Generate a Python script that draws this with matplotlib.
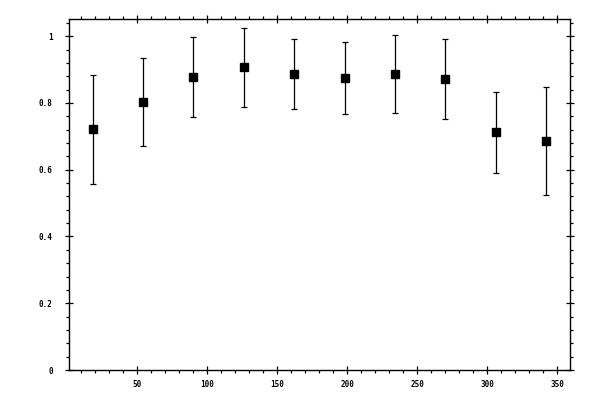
import matplotlib
matplotlib.use('Agg')
import matplotlib.pyplot as plt
from matplotlib.ticker import MultipleLocator

# data
uhly = [18, 54, 90, 126, 162, 198, 234, 270, 306, 342]
hodnoty = [0.721, 0.803, 0.877, 0.907, 0.887, 0.874, 0.887, 0.871, 0.712, 0.685]
chyby = [0.163, 0.131, 0.120, 0.118, 0.106, 0.108, 0.117, 0.120, 0.121, 0.162]

fig = plt.figure(figsize=(6, 4), dpi=100)
ax = fig.add_axes([0.1155, 0.075, 0.835, 0.877])

ax.errorbar(uhly, hodnoty, yerr=chyby, fmt='s', color='black', ms=5.8,
            ecolor='black', elinewidth=0.9, capsize=2.2, capthick=0.9)

ax.set_xlim(1.4, 359.3)
ax.set_ylim(0, 1.051)

ax.xaxis.set_major_locator(MultipleLocator(50))
ax.xaxis.set_minor_locator(MultipleLocator(10))
ax.yaxis.set_major_locator(MultipleLocator(0.2))
ax.yaxis.set_minor_locator(MultipleLocator(0.04))

ax.xaxis.set_major_formatter(plt.FuncFormatter(lambda v, p: '' if v <= 0 else '%g' % v))
ax.yaxis.set_major_formatter(plt.FuncFormatter(lambda v, p: '%g' % round(v, 2)))

for s in ax.spines.values():
    s.set_linewidth(1.0)

ax.tick_params(which='major', direction='inout', length=6, width=0.9,
               top=True, right=True, labelsize=5.5)
ax.tick_params(which='minor', direction='out', length=2.4, width=0.9,
               top=True, right=True)
ax.tick_params(axis='y', which='major', pad=9)
ax.tick_params(axis='x', which='major', pad=4)

for lab in ax.get_xticklabels() + ax.get_yticklabels():
    lab.set_family('DejaVu Sans Mono')
    lab.set_fontweight('bold')

fig.savefig('out.png', dpi=100)
